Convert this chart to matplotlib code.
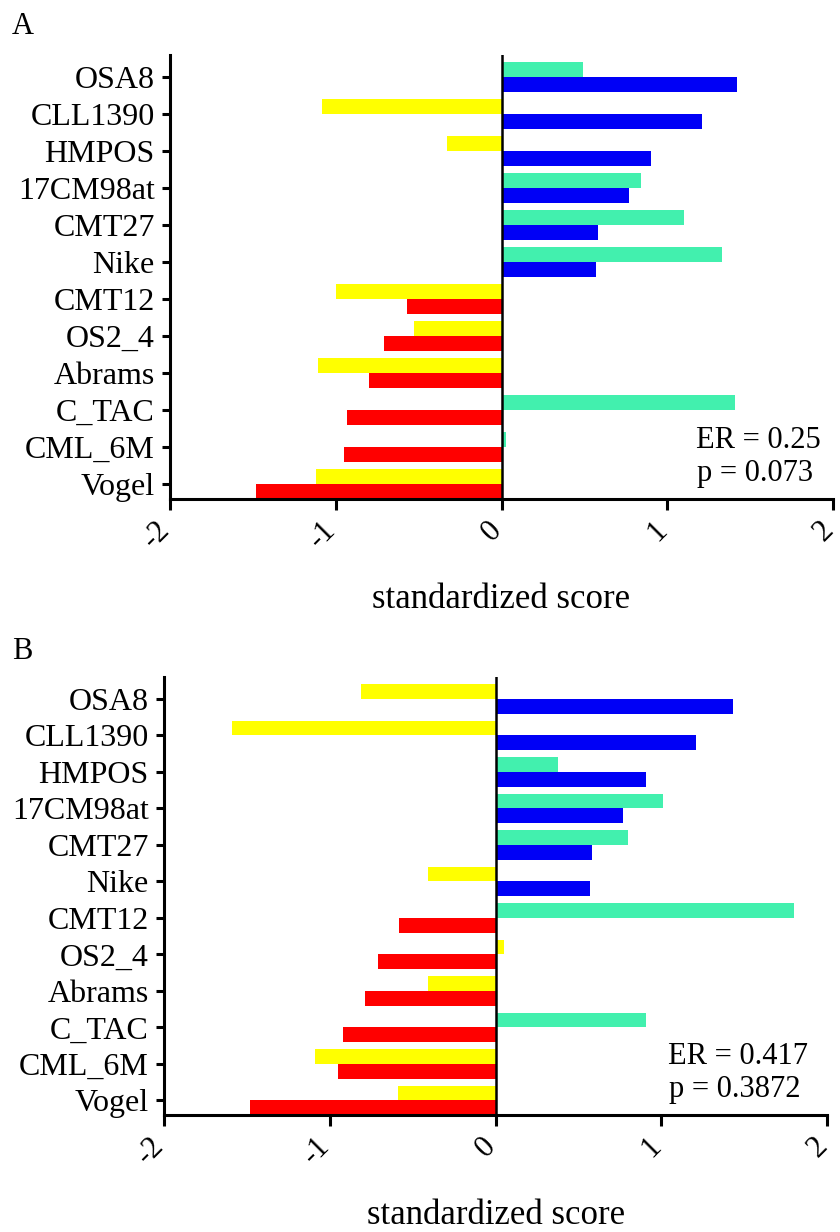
import matplotlib
matplotlib.use('Agg')
import matplotlib.pyplot as plt

plt.rcParams['font.family'] = ['Liberation Serif', 'DejaVu Serif']
plt.rcParams['axes.unicode_minus'] = False

# cell lines, top to bottom
labels = ['OSA8', 'CLL1390', 'HMPOS', '17CM98at', 'CMT27', 'Nike',
          'CMT12', 'OS2_4', 'Abrams', 'C_TAC', 'CML_6M', 'Vogel']

GREEN = '#42f0ae'
YELLOW = '#ffff00'
BLUE = '#0000f6'
RED = '#ff0000'

# panel A
a_top = [0.49, -1.08, -0.33, 0.84, 1.10, 1.33, -1.00, -0.53, -1.11, 1.41, 0.03, -1.12]
a_bottom = [1.42, 1.21, 0.90, 0.77, 0.58, 0.57, -0.57, -0.71, -0.80, -0.93, -0.95, -1.48]
a_top_colors = [GREEN, YELLOW, YELLOW, GREEN, GREEN, GREEN,
                YELLOW, YELLOW, YELLOW, GREEN, GREEN, YELLOW]
a_stats = ['ER = 0.25', 'p = 0.073']

# panel B
b_top = [-0.81, -1.59, 0.38, 1.01, 0.80, -0.41, 1.80, 0.05, -0.41, 0.91, -1.09, -0.59]
b_bottom = [1.43, 1.21, 0.91, 0.77, 0.58, 0.57, -0.58, -0.71, -0.79, -0.92, -0.95, -1.48]
b_top_colors = [YELLOW, YELLOW, GREEN, GREEN, GREEN, YELLOW,
                GREEN, YELLOW, YELLOW, GREEN, YELLOW, YELLOW]
b_stats = ['ER = 0.417', 'p = 0.3872']

xticks = [-2, -1, 0, 1, 2]

W, H = 840, 1232
fig = plt.figure(figsize=(W / 100, H / 100), dpi=100)


def px(x0, y0, x1, y1):
    """Pixel box (left, top, right, bottom) -> figure fraction rect."""
    return [x0 / W, 1 - y1 / H, (x1 - x0) / W, (y1 - y0) / H]


def draw_panel(ax, top, bottom, top_colors):
    ys = list(range(len(labels)))
    bottom_colors = [BLUE if v > 0 else RED for v in bottom]
    ax.barh([y - 0.2 for y in ys], top, height=0.4, color=top_colors, linewidth=0)
    ax.barh([y + 0.2 for y in ys], bottom, height=0.4, color=bottom_colors, linewidth=0)
    ax.axvline(0, color='black', linewidth=1.8)
    ax.set_xlim(-2, 2)
    ax.set_ylim(len(labels) - 0.6, -0.6)
    ax.set_yticks(ys)
    ax.set_yticklabels(labels, fontsize=23)
    ax.set_xticks(xticks)
    ax.set_xticklabels([])
    # slanted x labels, last digit just under and left of each tick
    for t in xticks:
        ax.annotate(str(t), xy=(t, 0), xycoords=('data', 'axes fraction'),
                    xytext=(-4, -27), textcoords='offset pixels',
                    fontsize=22, rotation=45, ha='right', va='center',
                    rotation_mode='anchor', annotation_clip=False)
    for side in ['top', 'right']:
        ax.spines[side].set_visible(False)
    for side in ['left', 'bottom']:
        ax.spines[side].set_linewidth(2.2)
    ax.tick_params(axis='both', length=6, width=2.2, pad=5)
    ax.tick_params(axis='x', length=8)


ax_a = fig.add_axes(px(170, 55, 833, 499))
draw_panel(ax_a, a_top, a_bottom, a_top_colors)
ax_b = fig.add_axes(px(164, 677, 827, 1115))
draw_panel(ax_b, b_top, b_bottom, b_top_colors)

# panel letters
fig.text(12 / W, 1 - 12 / H, 'A', fontsize=22, va='top', ha='left')
fig.text(12 / W, 1 - 637 / H, 'B', fontsize=22, va='top', ha='left')

# axis titles
fig.text(501 / W, 1 - 600 / H, 'standardized score', fontsize=25, ha='center', va='center')
fig.text(496 / W, 1 - 1216 / H, 'standardized score', fontsize=25, ha='center', va='center')

# enrichment stats
fig.text(696 / W, 1 - 440 / H, a_stats[0], fontsize=22, ha='left', va='center')
fig.text(697 / W, 1 - 473 / H, a_stats[1], fontsize=22, ha='left', va='center')
fig.text(668 / W, 1 - 1057 / H, b_stats[0], fontsize=22, ha='left', va='center')
fig.text(669 / W, 1 - 1090 / H, b_stats[1], fontsize=22, ha='left', va='center')

fig.savefig('out.png', dpi=100)
